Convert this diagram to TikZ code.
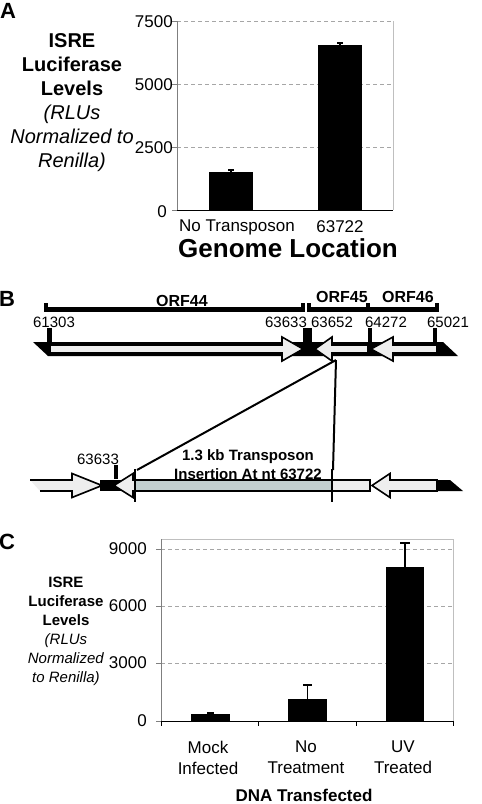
\documentclass[tikz,border=0pt]{standalone}
\usepackage{fontspec}
\setmainfont{Liberation Sans}
\usetikzlibrary{positioning}
\definecolor{orffill}{HTML}{EEEEEE}
\definecolor{tnfill}{HTML}{C3D0D0}
\definecolor{axisgray}{HTML}{7F7F7F}
\definecolor{gridgray}{HTML}{A6A6A6}
\newcommand{\fs}[2]{\fontsize{#1}{#2}\selectfont}
% ORF arrow: start, neck, tip, centre line, half body
\newcommand{\orfarrow}[5]{%
  \draw[orf] (#1,#4-#5) -- (#2,#4-#5) -- (#2,#4-12) -- (#3,#4)
    -- (#2,#4+12) -- (#2,#4+#5) -- (#1,#4+#5) -- cycle;}

\begin{document}
\begin{tikzpicture}[x=1pt, y=-1pt,
    panel/.style={font=\bfseries\fs{22}{22}, inner sep=0pt},
    tick/.style={font=\fs{17}{17}, anchor=east, inner sep=0pt},
    cat/.style={font=\fs{17}{21}, align=center, inner sep=0pt},
    grid/.style={gridgray, dash pattern=on 4pt off 3pt, line width=0.8pt},
    frame/.style={axisgray, line width=1pt},
    errbar/.style={line width=1.5pt},
    orf/.style={fill=orffill, draw=black, line width=1.6pt, line join=miter},
    bracket/.style={line width=4.5pt},
    ntlab/.style={font=\fs{15}{15}, inner sep=0pt},
    orfname/.style={font=\bfseries\fs{16}{16}, inner sep=0pt},
    site/.style={line width=4pt},
    link/.style={line width=2pt},
  ]
  \useasboundingbox (0,0) rectangle (482,804);

  % ---- panel A
  \node[panel](labA)                at (8,11) {A};
  \node[align=center, anchor=north, inner sep=0pt, font=\fs{20}{24}](ylabA) at (72,33)
    {\textbf{ISRE}\\ \textbf{Luciferase}\\ \textbf{Levels}\\
     \textit{(RLUs}\\ \textit{Normalized to}\\ \textit{Renilla)}};
  \draw[grid] (177,21) -- (393,21);
  \draw[grid] (177,84) -- (393,84);
  \draw[grid] (177,147) -- (393,147);
  \draw[frame, gray!50] (393,21) -- (393,210);
  \draw[frame] (177,21) -- (177,210);
  \foreach \y/\v in {22/7500, 85/5000, 148/2500} {
    \node[tick] at (173,\y) {\v};
  }
  \node[tick](zeroA)                at (167,212) {0};
  \foreach \y in {21,84,147,210} \draw[frame] (172,\y) -- (177,\y);
  \fill (209,172) rectangle (253,210);
  \fill (318,45) rectangle (362,210);
  \draw[errbar] (231,172) -- (231,170) (228,170) -- (234,170);
  \draw[errbar] (340,45) -- (340,43) (337,43) -- (343,43);
  \draw[line width=1pt] (177,210) -- (393,210);
  \node[cat](noTn)                  at (237,227) {No Transposon};
  \node[cat](tn63722)               at (340,227) {63722};
  \node[font=\bfseries\fs{26}{26}, inner sep=0pt](xlabA) at (288,248) {Genome Location};

  % ---- panel B
  \node[panel](labB)                at (7,299) {B};
  \draw[bracket] (46,303) -- (46,309.5) -- (303,309.5) -- (303,303);
  \draw[bracket] (309,303) -- (309,309.5) -- (368,309.5) -- (368,303);
  \draw[bracket] (365,309.5) -- (437,309.5) -- (437,303);
  \node[orfname](orf44)             at (182,301) {ORF44};
  \node[orfname](orf45)             at (342,297) {ORF45};
  \node[orfname](orf46)             at (408,297) {ORF46};
  \node[ntlab](p61303)              at (54,322) {61303};
  \node[ntlab](p63633)              at (286,322) {63633};
  \node[ntlab](p63652)              at (332,322) {63652};
  \node[ntlab](p64272)              at (386,322) {64272};
  \node[ntlab](p65021)              at (448,322) {65021};
  \draw[line width=5pt] (49,328) -- (49,352);
  \draw[line width=9pt] (307.5,328) -- (307.5,345);
  \draw[site] (370,328) -- (370,347);
  \draw[site] (435,328) -- (435,345);
  % wild type genome
  \fill (33,342) -- (443,342) -- (458,356) -- (48,356) -- cycle;
  \orfarrow{50}{282}{303}{349}{4}
  \orfarrow{368}{332}{315}{349}{4}
  \orfarrow{437}{393}{371}{349}{4}
  % mutant genome
  \fill (100,480) rectangle (135,491);
  \fill (430,480) -- (450,480) -- (463,491) -- (430,491) -- cycle;
  \fill[orffill] (30,480) -- (72,480) -- (72,473.5) -- (102,485.5) -- (72,497.5)
    -- (72,491) -- (40,491) -- cycle;
  \draw[line width=1.6pt] (30,480) -- (72,480) -- (72,473.5) -- (102,485.5)
    -- (72,497.5) -- (72,491) -- (40,491);
  \orfarrow{135}{133}{114}{485.5}{5.5}
  \draw[fill=tnfill, line width=2.2pt] (135,480) rectangle (332,491);
  \draw[orf] (332,480) rectangle (370,491);
  \orfarrow{437}{390}{372}{485.5}{5.5}
  \draw[site] (116,465) -- (116,479);
  \node[ntlab](m63633)              at (98,459) {63633};
  \draw[link] (135,469) -- (135,502);
  \draw[link] (332,469) -- (332,502);
  \node[font=\bfseries\fs{15}{19}, align=center, inner sep=0pt](tn) at (248,464.5)
    {1.3 kb Transposon\\ Insertion At nt 63722};
  \coordinate (ins)  at (336,360);
  \coordinate (tnL)  at (137,470);
  \coordinate (tnR)  at (333,470);
  \path[link]
    (ins) edge (tnL)
          edge (tnR);

  % ---- panel C
  \node[panel](labC)                at (7,542) {C};
  \node[align=center, anchor=north, inner sep=0pt, font=\fs{15}{19}](ylabC) at (66,577)
    {\textbf{ISRE}\\ \textbf{Luciferase}\\ \textbf{Levels}\\
     \textit{(RLUs}\\ \textit{Normalized}\\ \textit{to Renilla)}};
  \draw[grid] (161,549) -- (453,549);
  \draw[grid] (161,606) -- (453,606);
  \draw[grid] (161,663) -- (453,663);
  \draw[frame, gray!50] (161,539) -- (453,539) -- (453,721);
  \draw[frame] (161,539) -- (161,721);
  \foreach \y/\v in {549/9000, 606/6000, 663/3000, 721/0} {
    \node[tick] at (147,\y) {\v};
    \draw[frame] (156,\y) -- (161,\y);
  }
  \fill (191,714) rectangle (230,721);
  \fill (288,699) rectangle (327,721);
  \fill (386,567) rectangle (424,721);
  \draw[errbar] (210.5,714) -- (210.5,713) (207,713) -- (214,713);
  \draw[errbar] (307.5,699) -- (307.5,685) (303,685) -- (312,685);
  \draw[errbar] (405,567) -- (405,543) (400,543) -- (410,543);
  \draw[line width=1pt] (161,721) -- (453,721);
  \foreach \x in {161,258,356,453} \draw[line width=1pt] (\x,721) -- (\x,726);
  \node[cat](mock)                  at (208,757.5) {Mock\\ Infected};
  \node[cat](noTreat)               at (306,757.5) {No\\ Treatment};
  \node[cat](uvTreat)               at (403,757.5) {UV\\ Treated};
  \node[font=\bfseries\fs{17}{17}, inner sep=0pt](xlabC) at (304,795) {DNA Transfected};
\end{tikzpicture}
\end{document}
